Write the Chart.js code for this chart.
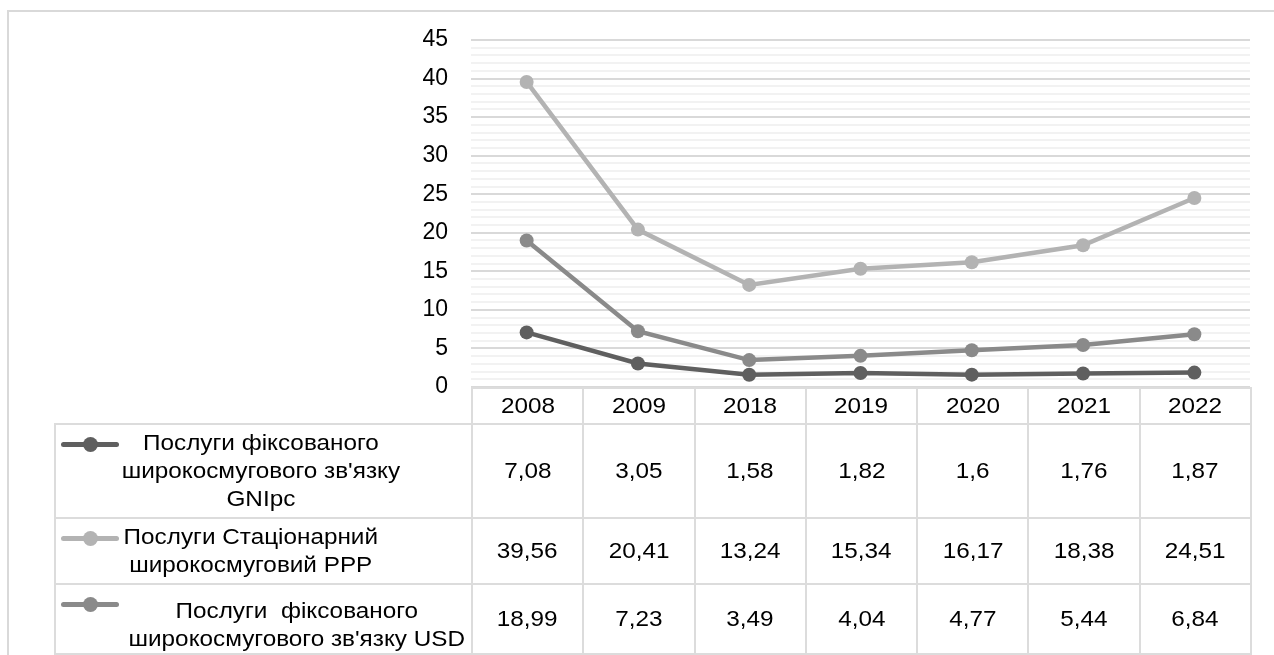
<!DOCTYPE html>
<html>
<head>
<meta charset="utf-8">
<script src="https://cdn.jsdelivr.net/npm/chart.js@4"></script>
<style>
  body { margin: 0; background: #fff; font-family: "Liberation Sans", Arial, sans-serif; }
  #wrap { position: relative; width: 1274px; height: 655px; overflow: hidden; }
  #frame { position: absolute; left: 7px; top: 10px; width: 1400px; height: 700px;
           border-left: 2px solid #d9d9d9; border-top: 2px solid #d9d9d9; box-sizing: border-box; }
  #chart { position: absolute; left: 0; top: 0; }
  #tbl { position: absolute; border-collapse: collapse; table-layout: fixed; font-size: 22.5px; color: #000; }
  #tbl td { border: 2px solid #dcdcdc; text-align: center; padding: 0; vertical-align: middle; white-space: nowrap; }
  #tbl td.empty { border-top: none; border-left: none; }
  #tbl td.leg { position: relative; }
  .s { display: inline-block; transform: scaleX(1.08); }
  .txt { white-space: pre; line-height: 28px; }
  .key { position: absolute; left: 5px; width: 58px; height: 5px; border-radius: 3px; }
  .key i { position: absolute; left: 22px; top: -5px; width: 15px; height: 15px; border-radius: 50%; background: inherit; }
</style>
</head>
<body>
<div id="wrap">
  <div id="frame"></div>
  <canvas id="chart" width="1274" height="655"></canvas>
  <table id="tbl"></table>
</div>
<script>
// données
const categories = ['2008', '2009', '2018', '2019', '2020', '2021', '2022'];
const gnipc = [7.08, 3.05, 1.58, 1.82, 1.6, 1.76, 1.87];
const ppp = [39.56, 20.41, 13.24, 15.34, 16.17, 18.38, 24.51];
const usd = [18.99, 7.23, 3.49, 4.04, 4.77, 5.44, 6.84];
const seriesNames = [
  'Послуги фіксованого\nширокосмугового зв\'язку\nGNIpc',
  'Послуги Стаціонарний\nширокосмуговий PPP',
  'Послуги  фіксованого\nширокосмугового зв\'язку USD'
];
const seriesColors = ['#5f5f5f', '#b3b3b3', '#8a8a8a'];
const yMax = 45;
const yStep = 5;

const allSeries = [gnipc, ppp, usd];

const datasets = allSeries.map((vals, i) => ({
  label: seriesNames[i].replace(/\n/g, ' '),
  data: vals,
  borderColor: seriesColors[i],
  backgroundColor: seriesColors[i],
  borderWidth: 4.5,
  pointRadius: 7,
  pointHoverRadius: 7,
  pointBorderWidth: 0,
  tension: 0
}));

const chart = new Chart(document.getElementById('chart'), {
  type: 'line',
  data: { labels: categories, datasets: datasets },
  options: {
    responsive: false,
    animation: false,
    layout: { padding: { top: 40, right: 24, bottom: 268, left: 0 } },
    plugins: { legend: { display: false }, tooltip: { enabled: false } },
    scales: {
      x: { display: false, offset: true },
      y: {
        min: 0,
        max: yMax,
        afterFit: s => { s.width = 471; },
        border: { display: false },
        grid: {
          drawTicks: false,
          lineWidth: 2,
          color: c => (c.tick && c.tick.value % yStep === 0) ? '#d9d9d9' : '#f2f2f2'
        },
        ticks: {
          stepSize: 1,
          autoSkip: false,
          maxTicksLimit: 100,
          padding: 23,
          color: '#000',
          font: { size: 23, family: 'Liberation Sans' },
          callback: v => (v % yStep === 0 ? v : '')
        }
      }
    }
  }
});

// Construire le tableau de données sous le graphique
function construireTableau(chart) {
  const area = chart.chartArea;
  const colW = (area.right - area.left) / categories.length;
  const tbl = document.getElementById('tbl');
  const legLeft = 54;
  tbl.style.left = legLeft + 'px';
  tbl.style.top = area.bottom + 'px';
  tbl.style.width = (area.right - legLeft) + 'px';

  let html = '<colgroup><col style="width:' + (area.left - legLeft) + 'px">';
  categories.forEach(() => { html += '<col style="width:' + colW + 'px">'; });
  html += '</colgroup>';

  html += '<tr style="height:36px"><td class="empty"></td>';
  categories.forEach(c => { html += '<td><span class="s">' + c + '</span></td>'; });
  html += '</tr>';

  const rowH = [94, 66, 66];
  const txtPad = ['0 72px 0 66px', '0 92px 0 66px', '12px 0 0 66px'];
  allSeries.forEach((vals, i) => {
    html += '<tr style="height:' + rowH[i] + 'px"><td class="leg">';
    html += '<span class="key" style="top:17px;background:' + seriesColors[i] + '"><i></i></span>';
    html += '<div class="txt" style="padding:' + txtPad[i] + '"><span class="s">' + seriesNames[i] + '</span></div></td>';
    vals.forEach(v => { html += '<td><span class="s">' + String(v).replace('.', ',') + '</span></td>'; });
    html += '</tr>';
  });
  tbl.innerHTML = html;
}

construireTableau(chart);
</script>
</body>
</html>
